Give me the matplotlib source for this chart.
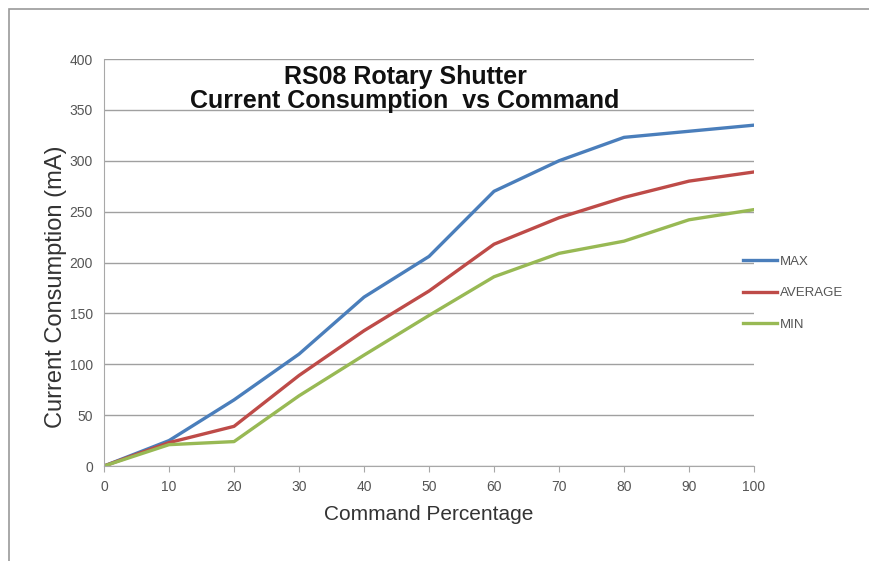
import matplotlib
matplotlib.use("Agg")
import matplotlib.pyplot as plt
from matplotlib.patches import Rectangle

# data
command = [0, 10, 20, 30, 40, 50, 60, 70, 80, 90, 100]
max_ma = [0, 25, 65, 110, 166, 206, 270, 300, 323, 329, 335]
avg_ma = [0, 23, 39, 89, 133, 172, 218, 244, 264, 280, 289]
min_ma = [0, 21, 24, 69, 109, 148, 186, 209, 221, 242, 252]

plt.rcParams['font.family'] = ['Liberation Sans', 'DejaVu Sans']

fig = plt.figure(figsize=(8.69, 5.61), dpi=100)
ax = fig.add_axes([0.1197, 0.1693, 0.748, 0.7255])

# outer chart border
fig.patches.append(Rectangle((9 / 869, -0.05), 1.1, 1 - 9 / 561 + 0.05, transform=fig.transFigure,
                             fill=False, edgecolor='#9a9a9a', linewidth=1.2))

ax.plot(command, max_ma, color='#4a7ebb', lw=2.4, label='MAX')
ax.plot(command, avg_ma, color='#be4b48', lw=2.4, label='AVERAGE')
ax.plot(command, min_ma, color='#98b954', lw=2.4, label='MIN')

ax.set_xlim(0, 100)
ax.set_ylim(0, 400)
ax.set_xticks(range(0, 101, 10))
ax.set_yticks(range(0, 401, 50))
ax.grid(axis='y', color='#a0a0a0', linewidth=1)
ax.set_axisbelow(True)
for s in ['top', 'right']:
    ax.spines[s].set_visible(False)
for s in ['left', 'bottom']:
    ax.spines[s].set_color('#a8a8a8')
ax.tick_params(axis='x', colors='#a8a8a8', labelcolor='#555555', labelsize=10, direction='out', length=4, pad=6)
ax.tick_params(axis='y', length=0, labelcolor='#555555', labelsize=10, pad=8)

ax.set_xlabel('Command Percentage', fontsize=15, color='#333333', labelpad=8)
ax.set_ylabel('Current Consumption (mA)', fontsize=17, color='#333333')
ax.yaxis.set_label_coords(-0.057, 0.44)

ax.text(0.463, 0.985, 'RS08 Rotary Shutter\nCurrent Consumption  vs Command', transform=ax.transAxes,
        ha='center', va='top', fontsize=18, fontweight='bold', color='#111111', linespacing=0.98)

ax.legend(loc='center left', bbox_to_anchor=(0.965, 0.4245), frameon=False, fontsize=9.5,
          handlelength=2.6, labelspacing=1.45, handletextpad=0.2, labelcolor='#555555')

fig.savefig('out.png', dpi=100, facecolor='white')
